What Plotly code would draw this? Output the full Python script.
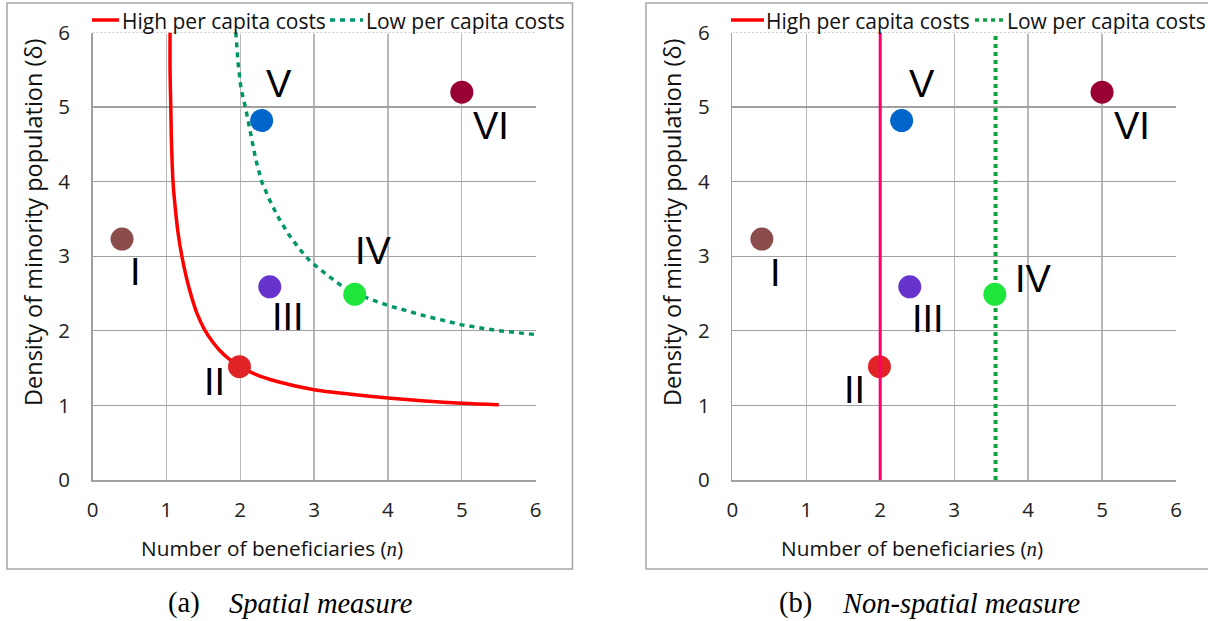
import plotly.graph_objects as go

# ---------------- data ----------------
point_names = ["I", "II", "III", "IV", "V", "VI"]
point_n = [0.40, 1.99, 2.40, 3.55, 2.29, 5.00]
point_delta = [3.23, 1.52, 2.59, 2.49, 4.82, 5.20]
point_colors = ["#8B4C4C", "#E02426", "#6633CC", "#1EE63C", "#0066CC", "#990033"]

# high per capita cost frontier (spatial measure)
high_curve_n = [1.05, 1.05, 1.06, 1.07, 1.09, 1.12, 1.16, 1.21, 1.27, 1.34, 1.42, 1.52,
                1.62, 1.72, 1.85, 2.00, 2.20, 2.50, 3.00, 3.50, 4.00, 4.50, 5.00, 5.50]
high_curve_delta = [6.00, 5.50, 5.00, 4.50, 4.00, 3.65, 3.30, 3.00, 2.72, 2.46, 2.22, 2.01,
                    1.86, 1.74, 1.62, 1.52, 1.42, 1.32, 1.21, 1.15, 1.10, 1.06, 1.03, 1.01]

# low per capita cost frontier (spatial measure)
low_curve_n = [1.94, 1.97, 2.01, 2.07, 2.14, 2.21, 2.29, 2.40, 2.51, 2.65, 2.80, 2.95,
               3.15, 3.35, 3.55, 3.80, 4.00, 4.50, 5.00, 5.50, 6.00]
low_curve_delta = [6.00, 5.60, 5.25, 5.00, 4.65, 4.30, 4.00, 3.75, 3.53, 3.30, 3.10, 2.93,
                   2.77, 2.62, 2.50, 2.41, 2.34, 2.20, 2.08, 2.00, 1.95]

# non-spatial thresholds
high_threshold_n = 2.0
low_threshold_n = 3.56
threshold_delta = [0, 6]

axis_ticks = [0, 1, 2, 3, 4, 5, 6]

# label placements (data coordinates) for the roman numerals
labels_left = {"I": (0.58, 2.79), "II": (1.65, 1.31), "III": (2.65, 2.18),
               "IV": (3.80, 3.07), "V": (2.52, 5.31), "VI": (5.39, 4.74)}
labels_right = {"I": (0.58, 2.78), "II": (1.65, 1.21), "III": (2.65, 2.16),
                "IV": (4.07, 2.69), "V": (2.56, 5.31), "VI": (5.40, 4.74)}

# ---------------- layout helpers ----------------
W, H = 1208, 621
def px(x):
    return x / W
def py(y):
    return 1 - y / H

FONT = "Open Sans"
RED = "#FF0000"
PINK = "#FF0066"
TEAL = "#00966A"
GREEN = "#10A040"

fig = go.Figure()

# ---- left panel (spatial) ----
fig.add_trace(go.Scatter(x=low_curve_n, y=low_curve_delta, mode="lines",
                         line=dict(color=TEAL, width=3.5, dash="5px,5px"),
                         xaxis="x", yaxis="y", showlegend=False, hoverinfo="skip"))
fig.add_trace(go.Scatter(x=high_curve_n, y=high_curve_delta, mode="lines",
                         line=dict(color=RED, width=3.5, shape="spline"),
                         xaxis="x", yaxis="y", showlegend=False, hoverinfo="skip"))
fig.add_trace(go.Scatter(x=point_n, y=point_delta, mode="markers",
                         marker=dict(color=point_colors, size=23, line=dict(width=0)),
                         text=point_names, xaxis="x", yaxis="y", showlegend=False))

# ---- right panel (non-spatial) ----
fig.add_trace(go.Scatter(x=[low_threshold_n, low_threshold_n], y=threshold_delta, mode="lines",
                         line=dict(color=GREEN, width=4, dash="4px,4px"),
                         xaxis="x2", yaxis="y2", showlegend=False, hoverinfo="skip"))
fig.add_trace(go.Scatter(x=point_n, y=point_delta, mode="markers",
                         marker=dict(color=point_colors, size=23, line=dict(width=0)),
                         text=point_names, xaxis="x2", yaxis="y2", showlegend=False))
fig.add_trace(go.Scatter(x=[high_threshold_n, high_threshold_n], y=threshold_delta, mode="lines",
                         line=dict(color=PINK, width=3),
                         xaxis="x2", yaxis="y2", showlegend=False, hoverinfo="skip"))

xdom_l = [px(92.5), px(535.7)]
xdom_r = [px(732.3), px(1176)]
ydom = [py(480), py(32.5)]

common_x = dict(range=[0, 6], tickvals=axis_ticks, showgrid=True, gridcolor="#B8B8B8", gridwidth=1.3,
                zeroline=False, showline=True, linecolor="#A0A0A0", linewidth=1.5, automargin=False,
                ticks="outside", ticklen=0, tickcolor="rgba(0,0,0,0)", ticklabelstandoff=11,
                tickfont=dict(family=FONT, size=20.5, color="#222"), fixedrange=True)
common_y = dict(range=[0, 6], tickvals=axis_ticks, showgrid=True, gridcolor="#A0A0A0", gridwidth=1.3,
                zeroline=False, showline=True, linecolor="#A0A0A0", linewidth=1.5, automargin=False,
                ticks="outside", ticklen=0, tickcolor="rgba(0,0,0,0)", ticklabelstandoff=17,
                tickfont=dict(family=FONT, size=20.5, color="#222"), fixedrange=True)

fig.update_layout(
    template="none",
    width=W, height=H, margin=dict(l=0, r=0, t=0, b=0, pad=0, autoexpand=False),
    paper_bgcolor="white", plot_bgcolor="white", showlegend=False,
    xaxis=dict(domain=xdom_l, anchor="y", **common_x),
    yaxis=dict(domain=ydom, anchor="x", **common_y),
    xaxis2=dict(domain=xdom_r, anchor="y2", **common_x),
    yaxis2=dict(domain=ydom, anchor="x2", **common_y),
)

shapes = []
# panel frames
for x0, x1 in [(7, 572.5), (646, 1215)]:
    shapes.append(dict(type="rect", xref="paper", yref="paper", x0=px(x0), x1=px(x1),
                       y0=py(569), y1=py(3), line=dict(color="#A6A6A6", width=1.5), layer="below"))
# dotted top edge of plot areas
for xr, yr in [("x", "y"), ("x2", "y2")]:
    shapes.append(dict(type="line", xref=xr, yref=yr, x0=0, x1=6, y0=6, y1=6,
                       line=dict(color="white", width=2.5), layer="between"))
    shapes.append(dict(type="line", xref=xr, yref=yr, x0=0, x1=6, y0=6, y1=6,
                       line=dict(color="#9A9A9A", width=1, dash="2px,2px"), layer="between"))

# manual legends
legend_items = [
    # (line x0, line x1, color, dash, width, text, text x)
    (92, 119, RED, "solid", 3.5, "High per capita costs", 120),
    (330, 363, TEAL, "5px,5px", 3.5, "Low per capita costs", 364),
    (731, 764, RED, "solid", 3.5, "High per capita costs", 764),
    (975, 1005, GREEN, "4px,4px", 3.5, "Low per capita costs", 1005),
]
annotations = []
LEG_Y = 20
for lx0, lx1, col, dash, wd, txt, tx in legend_items:
    shapes.append(dict(type="line", xref="paper", yref="paper", x0=px(lx0), x1=px(lx1),
                       y0=py(LEG_Y), y1=py(LEG_Y), line=dict(color=col, width=wd, dash=dash)))
    annotations.append(dict(xref="paper", yref="paper", x=px(tx), y=py(LEG_Y + 1), text=txt,
                            xanchor="left", yanchor="middle", showarrow=False,
                            font=dict(family=FONT, size=21, color="#111")))

# axis titles
serif_n = "<span style='font-family:Liberation Serif'><i>n</i></span>"
for cx in [272, 912]:
    annotations.append(dict(xref="paper", yref="paper", x=px(cx), y=py(548),
                            text="Number of beneficiaries (" + serif_n + ")",
                            xanchor="center", yanchor="middle", showarrow=False,
                            font=dict(family=FONT, size=20.8, color="#111")))
for cx in [33, 672]:
    annotations.append(dict(xref="paper", yref="paper", x=px(cx), y=py(223),
                            text="Density of minority population (δ)", textangle=-90,
                            xanchor="center", yanchor="middle", showarrow=False,
                            font=dict(family=FONT, size=23.5, color="#111")))

# roman numeral labels
for lbls, xr, yr in [(labels_left, "x", "y"), (labels_right, "x2", "y2")]:
    for name in point_names:
        lx, ly = lbls[name]
        annotations.append(dict(xref=xr, yref=yr, x=lx, y=ly, text=name, showarrow=False,
                                xanchor="center", yanchor="middle",
                                font=dict(family="Liberation Sans", size=38, color="black")))

# captions
for lab, lab_x, cap, cap_x in [("(a)", 166, "Spatial measure", 227), ("(b)", 777, "Non-spatial measure", 840)]:
    annotations.append(dict(xref="paper", yref="paper", x=px(lab_x), y=py(603), text=lab,
                            xanchor="left", yanchor="middle", showarrow=False,
                            font=dict(family="Liberation Serif", size=28.5, color="black")))
    annotations.append(dict(xref="paper", yref="paper", x=px(cap_x), y=py(603), text="<i>" + cap + "</i>",
                            xanchor="left", yanchor="middle", showarrow=False,
                            font=dict(family="Liberation Serif", size=28.5, color="black")))

fig.update_layout(shapes=shapes, annotations=annotations)
fig.write_html("out.html", config={"displayModeBar": False, "staticPlot": True},
               post_script="document.body.style.margin='0';document.body.style.overflow='hidden';")
